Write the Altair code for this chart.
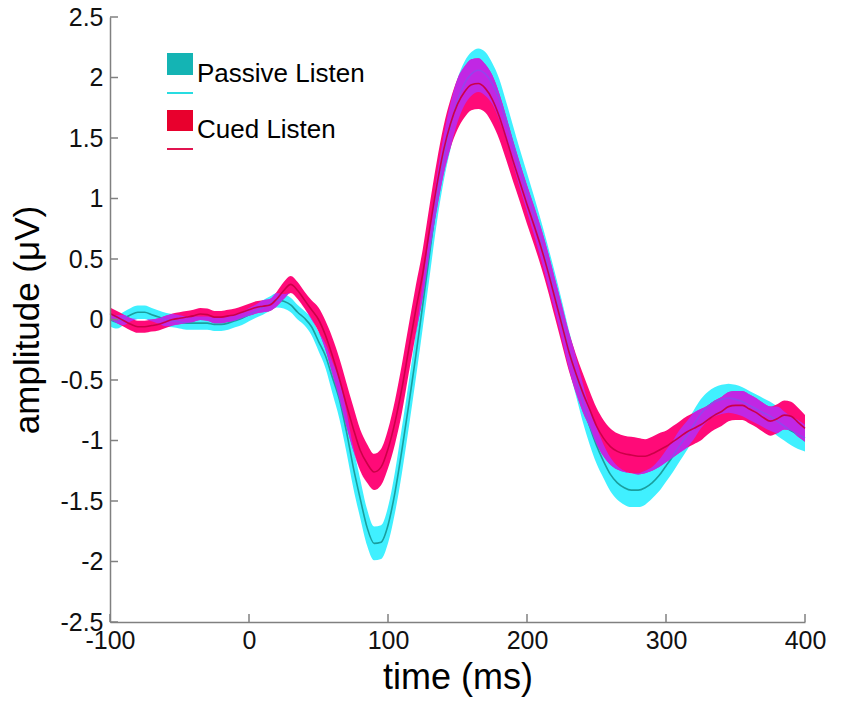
import altair as alt
import pandas as pd

# ---------------- data ----------------
times = list(range(-100, 401, 5))

passive_mean = [
    0.00, -0.02, 0.01, 0.04, 0.06, 0.06, 0.04, 0.02, 0.00, -0.01,
    -0.02, -0.03, -0.03, -0.03, -0.03, -0.04, -0.04, -0.03, -0.01, 0.01,
    0.04, 0.07, 0.10, 0.13, 0.16, 0.15, 0.12, 0.06, 0.01, -0.06,
    -0.18, -0.30, -0.48, -0.66, -0.92, -1.22, -1.48, -1.72, -1.85, -1.84,
    -1.70, -1.43, -1.08, -0.70, -0.30, 0.12, 0.55, 0.98, 1.33, 1.60,
    1.81, 1.95, 2.03, 2.06, 2.03, 1.95, 1.82, 1.64, 1.44, 1.24,
    1.05, 0.86, 0.66, 0.45, 0.23, 0.00, -0.24, -0.46, -0.68, -0.88,
    -1.04, -1.17, -1.28, -1.35, -1.39, -1.41, -1.41, -1.39, -1.35, -1.29,
    -1.21, -1.13, -1.04, -0.96, -0.87, -0.78, -0.72, -0.68, -0.66, -0.65,
    -0.66, -0.68, -0.71, -0.74, -0.77, -0.80, -0.84, -0.88, -0.92, -0.95,
    -0.98,
]
passive_se = [
    0.055, 0.055, 0.055, 0.055, 0.055, 0.055, 0.055, 0.055, 0.055, 0.055,
    0.055, 0.055, 0.055, 0.055, 0.055, 0.055, 0.055, 0.055, 0.055, 0.055,
    0.055, 0.055, 0.06, 0.06, 0.06, 0.06, 0.06, 0.06, 0.06, 0.07,
    0.08, 0.10, 0.13, 0.16, 0.17, 0.17, 0.16, 0.15, 0.14, 0.14,
    0.15, 0.17, 0.19, 0.19, 0.19, 0.19, 0.19, 0.19, 0.19, 0.19,
    0.18, 0.18, 0.18, 0.18, 0.18, 0.17, 0.17, 0.16, 0.16, 0.16,
    0.16, 0.16, 0.16, 0.16, 0.16, 0.16, 0.16, 0.16, 0.16, 0.15,
    0.15, 0.14, 0.14, 0.14, 0.14, 0.14, 0.14, 0.14, 0.13, 0.13,
    0.13, 0.13, 0.13, 0.12, 0.12, 0.12, 0.12, 0.12, 0.12, 0.12,
    0.12, 0.12, 0.12, 0.12, 0.12, 0.12, 0.12, 0.12, 0.12, 0.12,
    0.11,
]
cued_mean = [
    0.05, 0.02, -0.01, -0.04, -0.06, -0.06, -0.05, -0.04, -0.02, 0.00,
    0.01, 0.02, 0.03, 0.045, 0.04, 0.02, 0.02, 0.03, 0.04, 0.06,
    0.08, 0.10, 0.11, 0.12, 0.17, 0.24, 0.29, 0.24, 0.16, 0.08,
    0.00, -0.13, -0.30, -0.49, -0.70, -0.90, -1.08, -1.19, -1.26, -1.22,
    -1.07, -0.85, -0.57, -0.24, 0.08, 0.38, 0.75, 1.10, 1.40, 1.62,
    1.78, 1.88, 1.94, 1.95, 1.91, 1.82, 1.68, 1.50, 1.31, 1.13,
    0.95, 0.78, 0.60, 0.40, 0.18, -0.04, -0.26, -0.44, -0.60, -0.74,
    -0.88, -0.98, -1.05, -1.09, -1.11, -1.12, -1.13, -1.13, -1.11, -1.08,
    -1.05, -1.01, -0.97, -0.93, -0.90, -0.87, -0.83, -0.79, -0.76, -0.72,
    -0.71, -0.71, -0.74, -0.77, -0.81, -0.84, -0.82, -0.79, -0.80, -0.85,
    -0.90,
]
cued_se = [
    0.05, 0.05, 0.05, 0.05, 0.05, 0.05, 0.05, 0.05, 0.05, 0.05,
    0.05, 0.05, 0.05, 0.05, 0.05, 0.05, 0.05, 0.05, 0.05, 0.05,
    0.05, 0.05, 0.05, 0.05, 0.06, 0.07, 0.07, 0.07, 0.07, 0.08,
    0.10, 0.12, 0.15, 0.17, 0.18, 0.18, 0.17, 0.16, 0.15, 0.15,
    0.16, 0.18, 0.20, 0.20, 0.20, 0.20, 0.20, 0.20, 0.20, 0.20,
    0.21, 0.21, 0.21, 0.21, 0.20, 0.20, 0.19, 0.18, 0.17, 0.16,
    0.16, 0.16, 0.16, 0.16, 0.16, 0.16, 0.16, 0.16, 0.16, 0.15,
    0.15, 0.15, 0.15, 0.15, 0.15, 0.15, 0.15, 0.14, 0.14, 0.14,
    0.13, 0.13, 0.13, 0.13, 0.13, 0.13, 0.12, 0.12, 0.12, 0.12,
    0.12, 0.12, 0.12, 0.12, 0.12, 0.12, 0.12, 0.12, 0.12, 0.12,
    0.11,
]

x_ticks = [-100, 0, 100, 200, 300, 400]
y_ticks = [-2.5, -2, -1.5, -1, -0.5, 0, 0.5, 1, 1.5, 2, 2.5]
legend_labels = ["Passive Listen", "Cued Listen"]

# ---------------- derived table ----------------
df = pd.DataFrame({
    "t": times,
    "p": passive_mean,
    "pse": passive_se,
    "c": cued_mean,
    "cse": cued_se,
})
df["p_lo"] = df["p"] - df["pse"]
df["p_hi"] = df["p"] + df["pse"]
df["c_lo"] = df["c"] - df["cse"]
df["c_hi"] = df["c"] + df["cse"]
df["ov_lo"] = df[["p_lo", "c_lo"]].max(axis=1)
df["ov_hi"] = df[["p_hi", "c_hi"]].min(axis=1)
df["ov_hi"] = df[["ov_hi", "ov_lo"]].max(axis=1)

# ---------------- styling ----------------
W, H = 695, 605
FONT = "Liberation Sans"
AX_COL = "#808080"

xs = alt.Scale(domain=[-100, 400], nice=False, zero=False)
ys = alt.Scale(domain=[-2.5, 2.5], nice=False, zero=False)

xax = alt.Axis(
    values=x_ticks, title="time (ms)", grid=False,
    labelExpr="toString(datum.value)", labelFont=FONT, labelFontSize=25,
    labelColor="#111111", labelPadding=6, labelFlush=False, labelOverlap=False,
    labelBound=False, ticks=False, tickSize=0,
    domainColor=AX_COL, domainWidth=1.5,
    titleFont=FONT, titleFontSize=36, titleFontWeight="normal", titleColor="#000000",
    titleX=W / 2, titleY=66, titleAlign="center", titleBaseline="alphabetic",
    zindex=1,
)
yax = alt.Axis(
    values=y_ticks, title="amplitude (μV)", grid=False,
    labelExpr="toString(datum.value)", labelFont=FONT, labelFontSize=25,
    labelColor="#111111", labelPadding=7, labelOverlap=False, labelBound=False,
    labelBaseline="middle", ticks=False, tickSize=0,
    domainColor=AX_COL, domainWidth=1.5,
    titleFont=FONT, titleFontSize=35, titleFontWeight="normal", titleColor="#000000",
    titleX=-72, titleY=H / 2, titleAngle=270, titleAlign="center",
    titleBaseline="alphabetic",
    zindex=1,
)

CYAN_BAND = "#40F0FF"
CYAN_LINE = "#1A9E9E"
RED_BAND = "#FF0A78"
RED_LINE = "#CC0048"
OVERLAP = "#B22EFF"

base = alt.Chart(df)
X = alt.X("t:Q", scale=xs, axis=xax)


def band(lo, hi, color, opacity=1.0):
    return base.mark_area(color=color, opacity=opacity, interpolate="monotone").encode(
        x=X,
        y=alt.Y(f"{lo}:Q", scale=ys, axis=yax),
        y2=alt.Y2(f"{hi}:Q"),
    )


def mean_line(field, color):
    return base.mark_line(color=color, strokeWidth=1.6, interpolate="monotone").encode(
        x=X,
        y=alt.Y(f"{field}:Q", scale=ys, axis=yax),
    )


cyan_band = band("p_lo", "p_hi", CYAN_BAND)
red_band = band("c_lo", "c_hi", RED_BAND)
overlap_band = band("ov_lo", "ov_hi", OVERLAP, opacity=0.8)
cyan_line = mean_line("p", CYAN_LINE)
red_line = mean_line("c", RED_LINE)

# inward ticks
ytick_df = pd.DataFrame({"v": y_ticks})
xtick_df = pd.DataFrame({"t": x_ticks})
yticks = alt.Chart(ytick_df).mark_rule(color=AX_COL, strokeWidth=1.5).encode(
    y=alt.Y("v:Q", scale=ys, axis=yax), x=alt.value(0), x2=alt.value(8)
)
xticks = alt.Chart(xtick_df).mark_rule(color=AX_COL, strokeWidth=1.5).encode(
    x=alt.X("t:Q", scale=xs, axis=xax), y=alt.value(H), y2=alt.value(H - 8)
)

# legend
one = pd.DataFrame({"k": [0]})
leg_p_sq = alt.Chart(one).mark_rect(color="#14B4B4").encode(
    x=alt.value(57), x2=alt.value(83), y=alt.value(36), y2=alt.value(58)
)
leg_p_ln = alt.Chart(one).mark_rule(color="#28DCE1", strokeWidth=2).encode(
    x=alt.value(57), x2=alt.value(83), y=alt.value(76)
)
leg_c_sq = alt.Chart(one).mark_rect(color="#E8002D").encode(
    x=alt.value(57), x2=alt.value(83), y=alt.value(93), y2=alt.value(114)
)
leg_c_ln = alt.Chart(one).mark_rule(color="#E11450", strokeWidth=2).encode(
    x=alt.value(57), x2=alt.value(83), y=alt.value(132)
)
leg_p_tx = alt.Chart(pd.DataFrame({"label": [legend_labels[0]]})).mark_text(
    align="left", baseline="alphabetic", font=FONT, fontSize=26, color="#000000"
).encode(text="label:N", x=alt.value(87), y=alt.value(65))
leg_c_tx = alt.Chart(pd.DataFrame({"label": [legend_labels[1]]})).mark_text(
    align="left", baseline="alphabetic", font=FONT, fontSize=26, color="#000000"
).encode(text="label:N", x=alt.value(87), y=alt.value(121))

chart = alt.layer(
    cyan_band, red_band, cyan_line, overlap_band, red_line,
    yticks, xticks,
    leg_p_sq, leg_p_ln, leg_c_sq, leg_c_ln, leg_p_tx, leg_c_tx,
).properties(
    width=W, height=H,
    autosize=alt.AutoSizeParams(type="none"),
    padding={"left": 102, "top": 9, "right": 37, "bottom": 76},
    background="white",
).configure_view(strokeWidth=0)

chart.save("out.html", embed_options={"renderer": "svg", "actions": False})
